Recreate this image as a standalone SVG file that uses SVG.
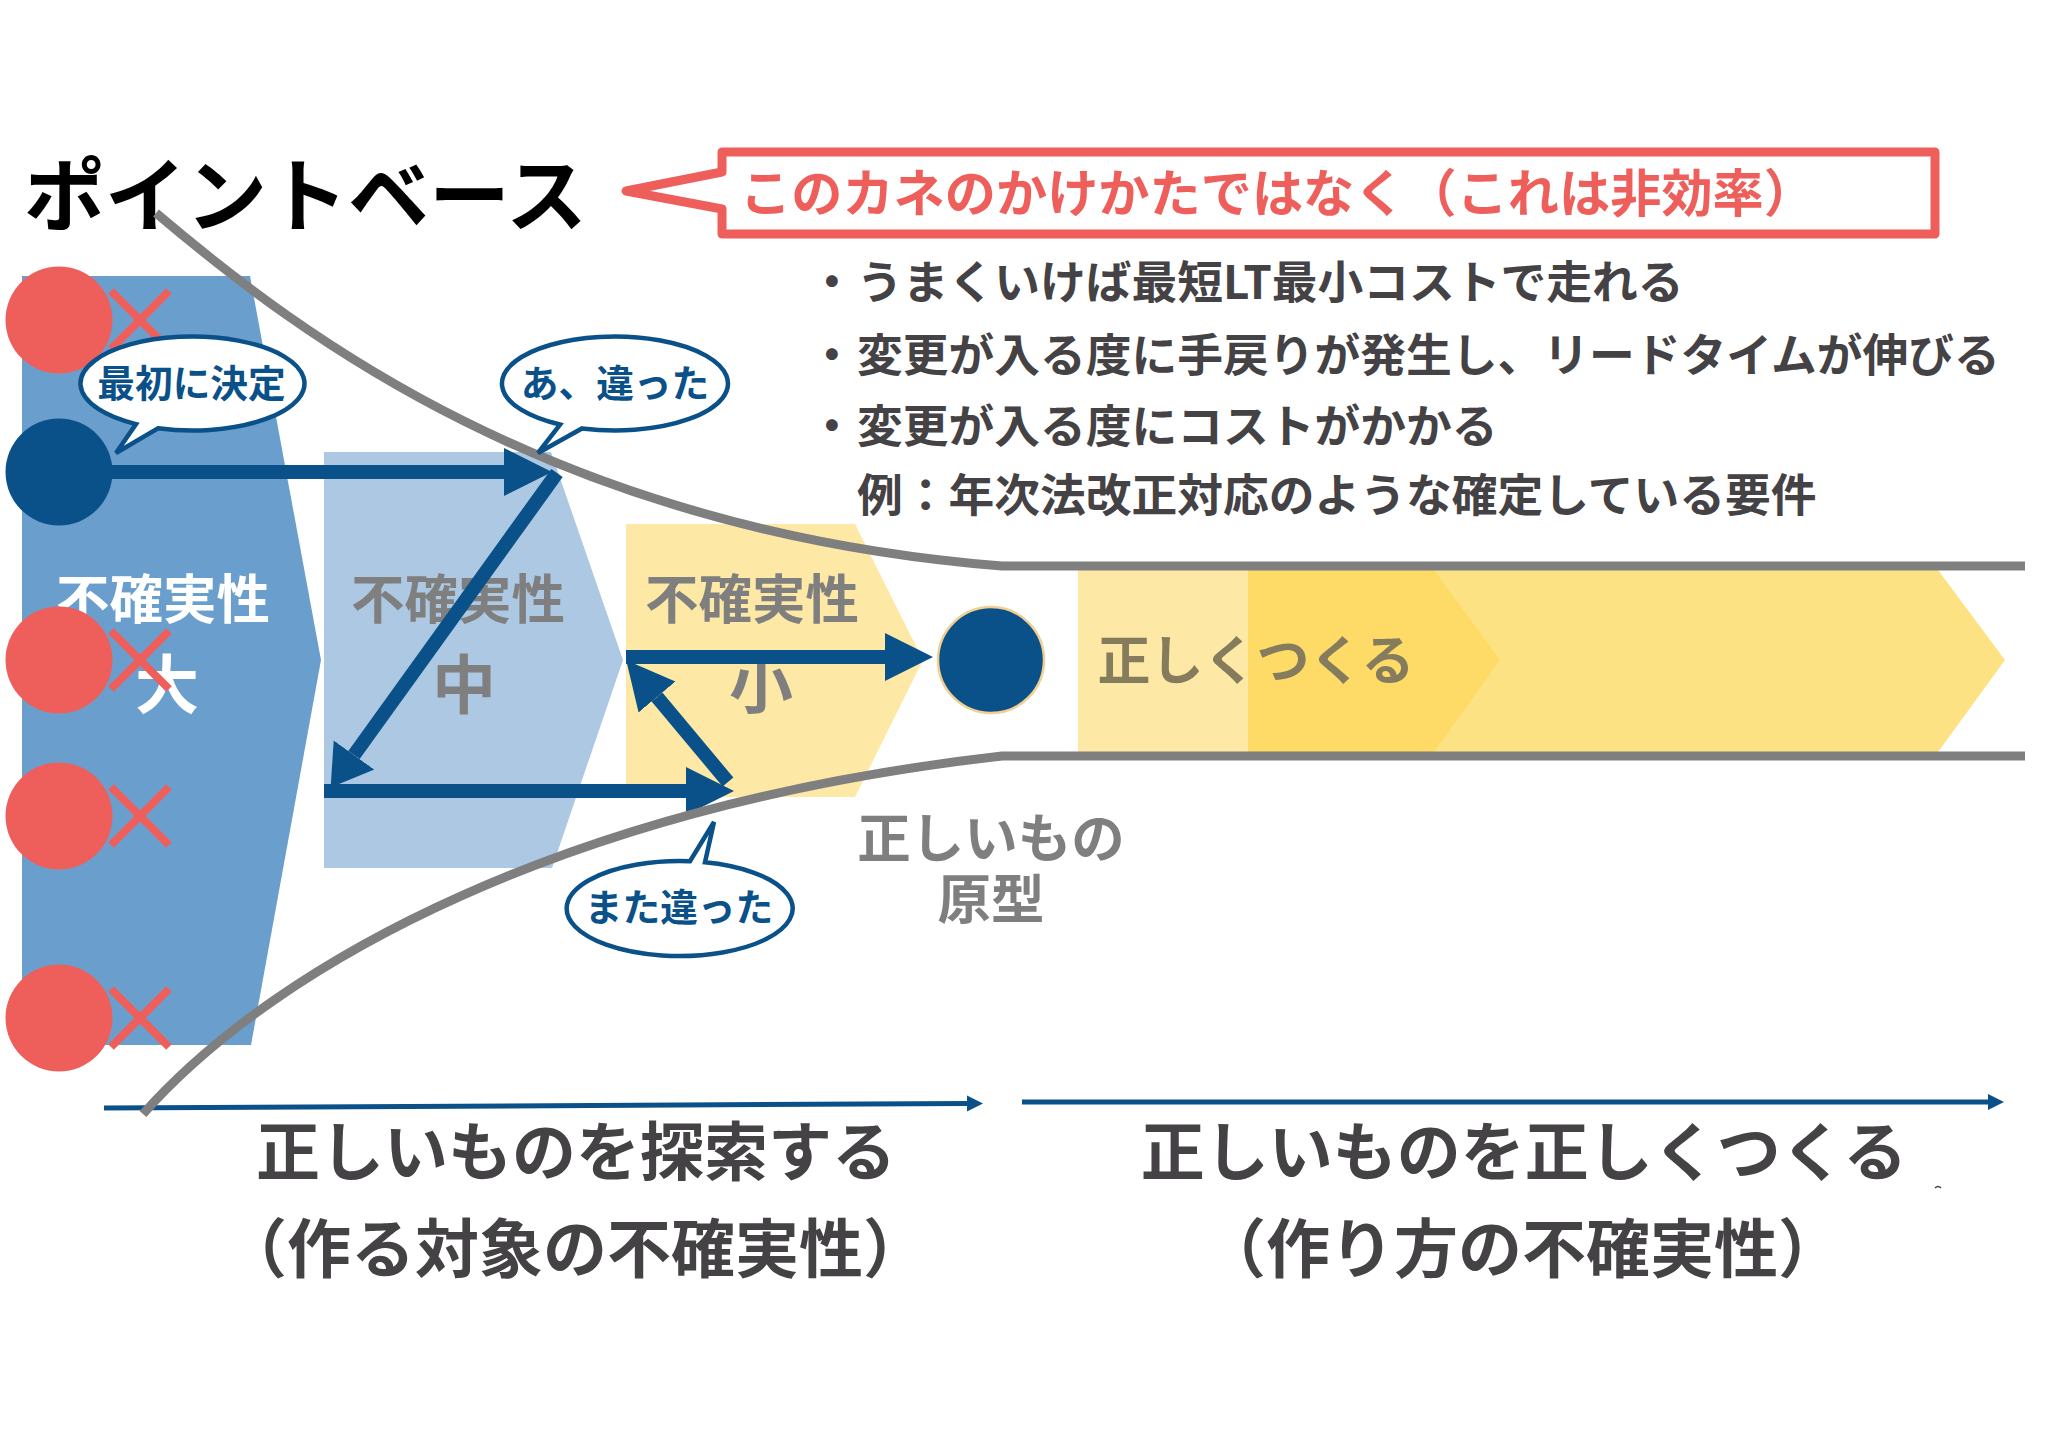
<svg xmlns="http://www.w3.org/2000/svg" width="2048" height="1447" viewBox="0 0 2048 1447">
<style>
text{font-family:"Noto Sans CJK JP","Noto Sans",sans-serif;font-weight:700}
.c{text-anchor:middle}
.gray{fill:#7f7f7f}
.dark{fill:#444244}
.big{font-size:64px}
.mid{font-size:53.5px}
.one{font-size:64px}
.bul{font-size:45.75px}
.bub{font-size:37.7px;fill:#0b5189;text-anchor:middle}
.bubble{fill:#fff;stroke:#0b5189;stroke-width:4.5;stroke-linejoin:miter}
.red{fill:#ee5f5b}
.x{stroke:#ee5f5b;stroke-width:8;fill:none}
.arrow{stroke:#0b5189;stroke-width:14;fill:none}
.thin{stroke:#0b5189;stroke-width:5;fill:none}
.curve{stroke:#7f7f7f;stroke-width:9;fill:none}
</style>
<defs>
<marker id="head" markerUnits="userSpaceOnUse" markerWidth="52" markerHeight="50" refX="0" refY="25" orient="auto"><path d="M0,1 L48,25 L0,49 Z" fill="#0b5189"/></marker>
<marker id="head-short" markerUnits="userSpaceOnUse" markerWidth="44" markerHeight="52" refX="0" refY="26" orient="auto"><path d="M0,1 L40,26 L0,51 Z" fill="#0b5189"/></marker>
<marker id="small" markerUnits="userSpaceOnUse" markerWidth="20" markerHeight="20" refX="0" refY="10" orient="auto"><path d="M0,2 L16,10 L0,18 Z" fill="#0b5189"/></marker>
<symbol id="cross" overflow="visible"><path d="M-29,-29 L29,29 M29,-29 L-29,29"/></symbol>
</defs>
<rect width="2048" height="1447" fill="#fff"/>

<g id="stage-large">
<polygon points="22,276 250,276 321,660 251,1045 22,1045" fill="#6a9fcd"/>
<text class="c mid" x="163" y="619" fill="#fff">不確実性</text>
<text class="c one" x="167" y="708" fill="#fff">大</text>
</g>
<g id="stage-medium">
<polygon points="324,452 551,452 623,660 552,868 324,868" fill="#acc8e2"/>
<text class="c mid gray" x="458" y="619">不確実性</text>
<text class="c one gray" x="464" y="708">中</text>
</g>
<g id="stage-small">
<polygon points="626,524 855,524 923,660 855,797 626,797" fill="#fde9a5"/>
<text class="c mid gray" x="752" y="619">不確実性</text>
<text class="c one gray" x="761" y="708">小</text>
</g>
<g id="stage-build">
<polygon points="1248,570 1938,570 2005,660 1938,752 1248,752" fill="#fde283"/>
<polygon points="1078,570 1248,570 1248,752 1078,752" fill="#fde9a5"/>
<polygon points="1248,570 1434,570 1500,660 1434,752 1248,752" fill="#fddb66"/>
<text class="c" x="1256" y="680" font-size="53" fill="#857c5e">正しくつくる</text>
</g>

<g id="title"><text x="24" y="225" font-size="81" fill="#000">ポイントベース</text></g>

<g id="callout">
<path d="M722,152 H1935 V234 H722 V209 L626,191 L722,172 Z" fill="#fff" stroke="#ee5f5b" stroke-width="9" stroke-linejoin="round"/>
<text class="red" x="740" y="212" font-size="51.2">このカネのかけかたではなく（これは非効率）</text>
</g>

<g id="notes">
<text class="bul dark" x="809" y="299">・<tspan x="857">うまくいけば最短LT最小コストで走れる</tspan></text>
<text class="bul dark" x="809" y="372">・<tspan x="857">変更が入る度に手戻りが発生し、リードタイムが伸びる</tspan></text>
<text class="bul dark" x="809" y="443">・<tspan x="857">変更が入る度にコストがかかる</tspan></text>
<text class="bul dark" x="857" y="512">例：年次法改正対応のような確定している要件</text>
</g>

<g id="option-1"><circle cx="59" cy="320" r="53.5" fill="#ee5f5b"/><use href="#cross" x="140" y="320" class="x"/></g>
<g id="option-2"><circle cx="59" cy="660" r="53.5" fill="#ee5f5b"/></g>
<g id="option-3"><circle cx="59" cy="816" r="53.5" fill="#ee5f5b"/><use href="#cross" x="140" y="816" class="x"/></g>
<g id="option-4"><circle cx="59" cy="1018" r="53.5" fill="#ee5f5b"/><use href="#cross" x="140" y="1018" class="x"/></g>
<g id="option-2-cross"><use href="#cross" x="140" y="660" class="x"/></g>
<g id="start-point"><circle cx="59" cy="472" r="53.5" fill="#0b5189"/></g>

<g id="connectors">
<path class="arrow" d="M112,472 H504" marker-end="url(#head)"/>
<path class="arrow" d="M557,473 L354,755" marker-end="url(#head-short)"/>
<path class="arrow" d="M324,791 H686" marker-end="url(#head)"/>
<path class="arrow" d="M728,782 L657,697" marker-end="url(#head)"/>
<path class="arrow" d="M626,657 H885" marker-end="url(#head)"/>
<path class="thin" d="M104,1108 L967,1103.5" marker-end="url(#small)"/>
<path class="thin" d="M1022,1102 H1988" marker-end="url(#small)"/>
<path class="curve" d="M156,213 C300,335 555,530 1002,566 H2025"/>
<path class="curve" d="M143,1114 C280,960 570,805 1002,756 H2025"/>
</g>

<g id="bubble-first">
<path class="bubble" d="M158,428.21 A112,47 0 1 0 136,424.08 L116,453 Z"/>
<text class="bub" x="191.5" y="397">最初に決定</text>
</g>
<g id="bubble-wrong">
<path class="bubble" d="M582,428.45 A113,47 0 1 0 560,424.56 L538,453 Z"/>
<text class="bub" x="615" y="397">あ、違った</text>
</g>
<g id="bubble-again">
<path class="bubble" d="M690,861.21 A113,47.5 0 1 0 705,862.22 L714,822 Z"/>
<text class="bub" x="679" y="921">また違った</text>
</g>

<g id="goal">
<circle cx="991" cy="660" r="53" fill="#0b5189" stroke="#f0cf90" stroke-width="2.5"/>
<text class="c mid gray" x="991" y="858">正しいもの</text>
<text class="c mid gray" x="991" y="919">原型</text>
</g>

<g id="axis-labels">
<text class="c big dark" x="576" y="1175">正しいものを探索する</text>
<text class="c big dark" x="575" y="1272">（作る対象の不確実性）</text>
<text class="c big dark" x="1524" y="1175">正しいものを正しくつくる</text>
<text class="c big dark" x="1522" y="1272">（作り方の不確実性）</text>
</g>
<path d="M1935,1188 q3,-3 6,0" stroke="#404040" stroke-width="1.5" fill="none"/>
</svg>
